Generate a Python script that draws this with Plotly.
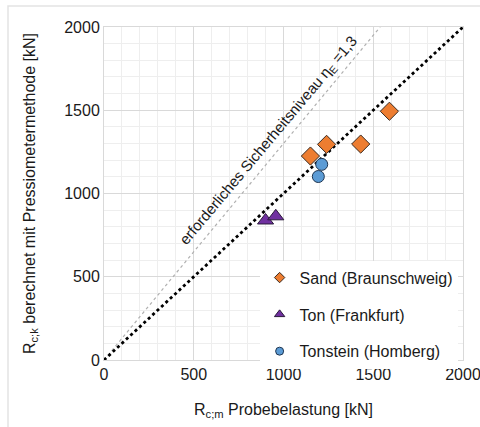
import plotly.graph_objects as go

# Data
sand_x = [1150, 1240, 1430, 1590]
sand_y = [1225, 1295, 1297, 1494]
ton_x = [900, 957]
ton_y = [838, 863]
tonstein_x = [1213, 1194]
tonstein_y = [1175, 1102]
ref_line_x = [0, 2000]
ref_line_y = [0, 2000]
eta = 1.3
safety_x = [0, 2000 / eta]
safety_y = [0, 2000]
series_names = ["Sand (Braunschweig)", "Ton (Frankfurt)", "Tonstein (Homberg)"]

FONT = "Liberation Sans, Arial, sans-serif"
TXT = "#1a1a1a"

styles = [
    dict(symbol="diamond", size=14, color="#ED7D31", line=dict(color="#3a2a20", width=1)),
    dict(symbol="triangle-up", size=14, color="#7030A0", line=dict(color="#2a1a3a", width=1)),
    dict(symbol="circle", size=12, color="#5B9BD5", line=dict(color="#1f3550", width=1)),
]
legend_sizes = [8, 9, 8]

fig = go.Figure()
fig.add_trace(go.Scatter(x=safety_x, y=safety_y, mode="lines",
                         line=dict(color="#b0b0b0", width=1.2, dash="dot"),
                         showlegend=False, hoverinfo="skip"))
fig.add_trace(go.Scatter(x=ref_line_x, y=ref_line_y, mode="lines",
                         line=dict(color="#000000", width=2.8, dash="dot"),
                         showlegend=False, hoverinfo="skip"))

for (xs, ys), name, st, ls, grp in zip(
        [(sand_x, sand_y), (ton_x, ton_y), (tonstein_x, tonstein_y)],
        series_names, styles, legend_sizes, ["a", "b", "c"]):
    fig.add_trace(go.Scatter(x=xs, y=ys, mode="markers", name=name,
                             legendgroup=grp, showlegend=False, marker=st))
    leg = dict(st)
    leg["size"] = ls
    fig.add_trace(go.Scatter(x=[None], y=[None], mode="markers", name=name,
                             legendgroup=grp, showlegend=True, marker=leg))

fig.add_annotation(x=918, y=1320, xref="x", yref="y",
                   text="erforderliches Sicherheitsniveau η<sub>E</sub> =1,3",
                   showarrow=False, textangle=-50,
                   font=dict(family=FONT, size=15, color=TXT))

# outer faint frame
fig.add_shape(type="rect", xref="paper", yref="paper",
              x0=(8 - 104) / 359, x1=1.2, y0=-0.4, y1=(359 - 6) / 332,
              line=dict(color="#e3e3e3", width=1.5), layer="below")

axis_common = dict(
    range=[0, 2000], dtick=500, showgrid=True, gridcolor="#d9d9d9", gridwidth=1,
    minor=dict(dtick=100, showgrid=True, gridcolor="#eeeeee", gridwidth=1),
    zeroline=False, showline=True, linecolor="#d9d9d9", mirror=True,
    ticks="", tickfont=dict(family=FONT, size=16, color=TXT),
    fixedrange=True, automargin=False, ticklabeloverflow="allow",
)

fig.update_layout(
    width=480, height=427,
    margin=dict(l=104, r=17, t=27, b=67),
    paper_bgcolor="white", plot_bgcolor="white",
    font=dict(family=FONT, color=TXT),
    xaxis=dict(**axis_common,
               title=dict(text="R<sub>c;m</sub> Probebelastung [kN]",
                          font=dict(family=FONT, size=16, color=TXT), standoff=21)),
    yaxis=dict(**axis_common,
               title=dict(text="R<sub>c;k</sub> berechnet mit Pressiometermethode [kN]",
                          font=dict(family=FONT, size=16, color=TXT), standoff=24)),
    legend=dict(x=0.985, y=-0.026, xanchor="right", yanchor="bottom",
                bgcolor="white", font=dict(family=FONT, size=16, color=TXT),
                tracegroupgap=13, itemwidth=30),
    showlegend=True,
)

fig.write_html("out.html")
